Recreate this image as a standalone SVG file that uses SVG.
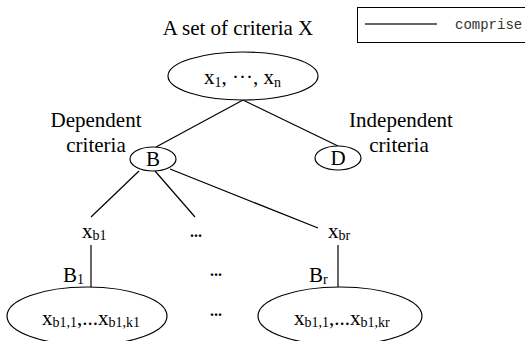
<svg xmlns="http://www.w3.org/2000/svg" width="525" height="341" viewBox="0 0 525 341">
<style>
text{font-family:"Liberation Serif","Times New Roman",serif;fill:#000;font-size:21px}
.s{font-size:14px}
.e{fill:#fff;stroke:#000;stroke-width:1.2}
.c line{stroke:#000;stroke-width:1.2}
.m{font-family:"Liberation Mono","Courier New",monospace;font-size:14px;fill:#333}
.d{font-weight:bold;font-size:16px}
</style>
<rect width="525" height="341" fill="#fff"/>
<g id="legend">
<rect x="357.5" y="7.5" width="170" height="35" fill="#fff" stroke="#000" stroke-width="1"/>
<line x1="365" y1="24" x2="437" y2="24" stroke="#333" stroke-width="1.3"/>
<text class="m" x="455" y="29">comprise</text>
</g>
<g class="c" id="connectors">
<line x1="243" y1="100" x2="156" y2="147"/>
<line x1="243" y1="100" x2="338" y2="146"/>
<line x1="139" y1="171" x2="91" y2="217"/>
<line x1="155" y1="171" x2="195" y2="217"/>
<line x1="170" y1="169" x2="318" y2="228"/>
<line x1="91" y1="245" x2="91" y2="287"/>
<line x1="338" y1="245" x2="338" y2="287"/>
</g>
<g id="X">
<text x="238" y="35" text-anchor="middle">A set of criteria X</text>
<ellipse class="e" cx="243" cy="76" rx="75" ry="24"/>
<text x="204" y="84">x<tspan class="s" dy="3">1</tspan><tspan dy="-3">, ···, x</tspan><tspan class="s" dy="3">n</tspan></text>
</g>
<g id="B">
<text x="96" y="127" text-anchor="middle">Dependent</text>
<text x="96" y="152" text-anchor="middle">criteria</text>
<ellipse class="e" cx="153" cy="159" rx="23" ry="12"/>
<text x="153" y="166" text-anchor="middle">B</text>
</g>
<g id="D">
<text x="401" y="127" text-anchor="middle">Independent</text>
<text x="399" y="152" text-anchor="middle">criteria</text>
<ellipse class="e" cx="338" cy="158" rx="23" ry="12"/>
<text x="338" y="165" text-anchor="middle">D</text>
</g>
<g id="xb1">
<text x="82" y="238">x<tspan class="s" dy="2">b1</tspan></text>
</g>
<g id="dots1"><text class="d" x="190" y="237">...</text></g>
<g id="xbr">
<text x="328" y="238">x<tspan class="s" dy="2">br</tspan></text>
</g>
<g id="B1label"><text x="63" y="282">B<tspan class="s" dy="2">1</tspan></text></g>
<g id="dots2"><text class="d" x="210" y="276">...</text></g>
<g id="Brlabel"><text x="309" y="282">B<tspan class="s" dy="2">r</tspan></text></g>
<g id="set1">
<ellipse class="e" cx="87" cy="316" rx="80" ry="29"/>
<text x="42" y="325">x<tspan class="s" dy="2">b1,1</tspan><tspan dy="-2">,...x</tspan><tspan class="s" dy="2">b1,k1</tspan></text>
</g>
<g id="dots3"><text class="d" x="210" y="316">...</text></g>
<g id="setr">
<ellipse class="e" cx="340" cy="316" rx="82" ry="29"/>
<text x="294" y="325">x<tspan class="s" dy="2">b1,1</tspan><tspan dy="-2">,...x</tspan><tspan class="s" dy="2">b1,kr</tspan></text>
</g>
</svg>
